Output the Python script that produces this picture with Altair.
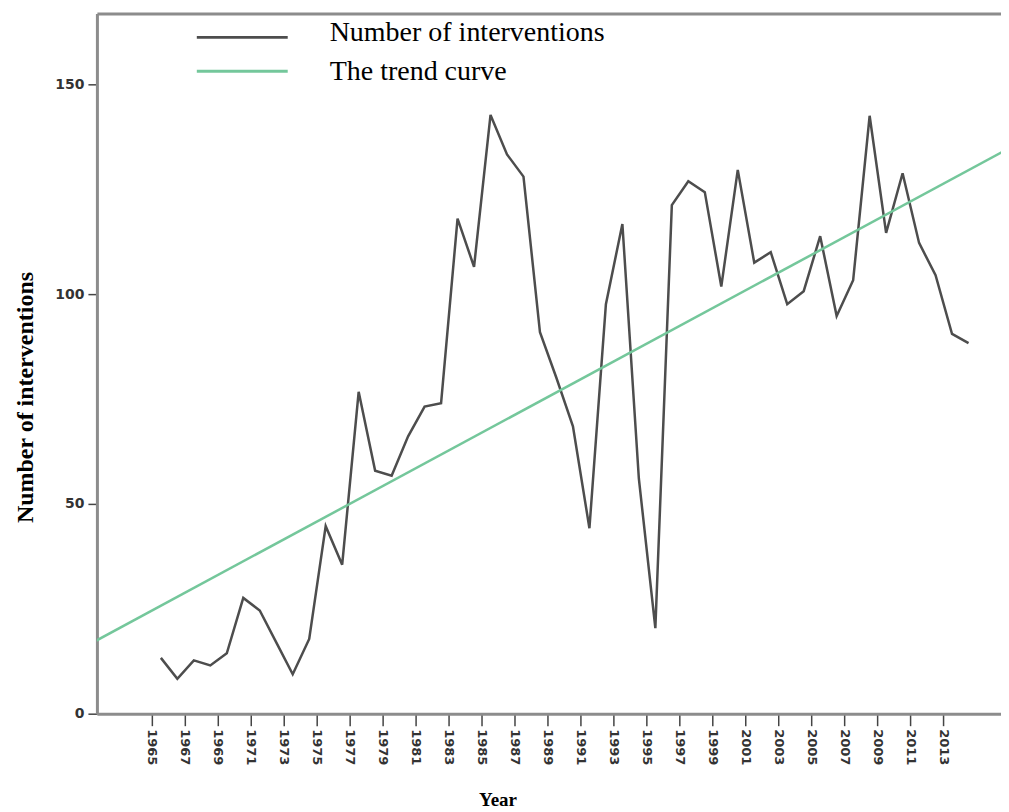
import altair as alt
import pandas as pd

# ---- data ----
years = list(range(1965, 2015))
interventions = [13.3, 8.3, 12.7, 11.5, 14.4, 27.6, 24.6, 17.0, 9.4, 17.8,
                 44.7, 35.5, 76.7, 57.9, 56.7, 66.1, 73.2, 74.0, 118.0, 106.5,
                 142.7, 133.3, 128.0, 90.9, 80.0, 68.5, 44.2, 97.6, 116.7, 56.0,
                 20.4, 121.2, 126.9, 124.3, 101.8, 129.6, 107.5, 110.0, 97.6, 100.7,
                 113.8, 94.8, 103.3, 142.5, 114.6, 128.8, 112.2, 104.5, 90.5, 88.3]
trend_years = [1961, 2017]
trend_values = [17.25, 135.9]
tick_years = list(range(1965, 2014, 2))
y_ticks = [0, 50, 100, 150]
legend_labels = ["Number of interventions", "The trend curve"]
series_colors = ["#4d4d4d", "#74c79b"]

df = pd.DataFrame({"Year": years, "Interventions": interventions})
trend = pd.DataFrame({"Year": trend_years, "Interventions": trend_values})

x_scale = alt.Scale(domain=[1961.12, 2015.97], nice=False, zero=False)
y_scale = alt.Scale(domain=[0, 166.9], nice=False, zero=True)

x_axis = alt.Axis(
    values=tick_years, format="d", title="Year",
    labelAngle=90, labelAlign="left", labelBaseline="middle",
    labelFont="DejaVu Sans", labelFontWeight="bold", labelFontSize=13,
    labelColor="#333333", labelPadding=3, labelOverlap=False, labelFlush=False,
    tickSize=12, tickColor="#444444", tickWidth=1.5, tickOffset=-9,
    domainColor="#8c8c8c", domainWidth=3, grid=False,
    titleFont="Liberation Serif", titleFontSize=19, titleFontWeight="bold",
    titleColor="#000000", titleX=401, titleY=92, titleAlign="center",
    titleBaseline="alphabetic",
)
x_axis_top = alt.Axis(orient="top", labels=False, ticks=False, title=None,
                      domainColor="#8c8c8c", domainWidth=3, grid=False)
y_axis = alt.Axis(
    values=y_ticks, title="Number of interventions",
    labelFont="DejaVu Sans", labelFontWeight="bold", labelFontSize=14,
    labelColor="#333333", labelPadding=4,
    tickSize=9, tickColor="#444444", tickWidth=1.5,
    domainColor="#8c8c8c", domainWidth=3, grid=False,
    titleFont="Liberation Serif", titleFontSize=24, titleFontWeight="bold",
    titleColor="#000000", titleX=-59, titleY=384, titleAngle=270,
    titleAlign="center", titleBaseline="bottom",
)

line = alt.Chart(df).mark_line(color=series_colors[0], strokeWidth=2.5).encode(
    x=alt.X("Year:Q", scale=x_scale, axis=x_axis),
    y=alt.Y("Interventions:Q", scale=y_scale, axis=y_axis),
)

trend_line = alt.Chart(trend).mark_line(color=series_colors[1], strokeWidth=2.5, clip=True).encode(
    x=alt.X("Year:Q", scale=x_scale, axis=x_axis_top),
    y=alt.Y("Interventions:Q", scale=y_scale),
)

legend_layers = []
for i, (lab, col) in enumerate(zip(legend_labels, series_colors)):
    ldf = pd.DataFrame({"label": [lab]})
    legend_layers.append(
        alt.Chart(ldf).mark_rule(color=col, strokeWidth=3).encode(
            x=alt.value(100), x2=alt.value(191), y=alt.value(24 + 34 * i))
    )
    legend_layers.append(
        alt.Chart(ldf).mark_text(align="left", baseline="alphabetic", font="Liberation Serif",
                                 fontSize=28, color="#000000").encode(
            x=alt.value(233), y=alt.value(28 + 39 * i), text="label:N")
    )

chart = alt.layer(line, trend_line, *legend_layers).resolve_axis(x="independent").properties(
    width=905, height=701,
    autosize=alt.AutoSizeParams(type="none"),
    padding={"left": 89, "top": 5, "right": 0, "bottom": 95},
    background="white",
).configure_view(stroke=None)

chart.save("out.html", embed_options={"renderer": "svg", "actions": False})
